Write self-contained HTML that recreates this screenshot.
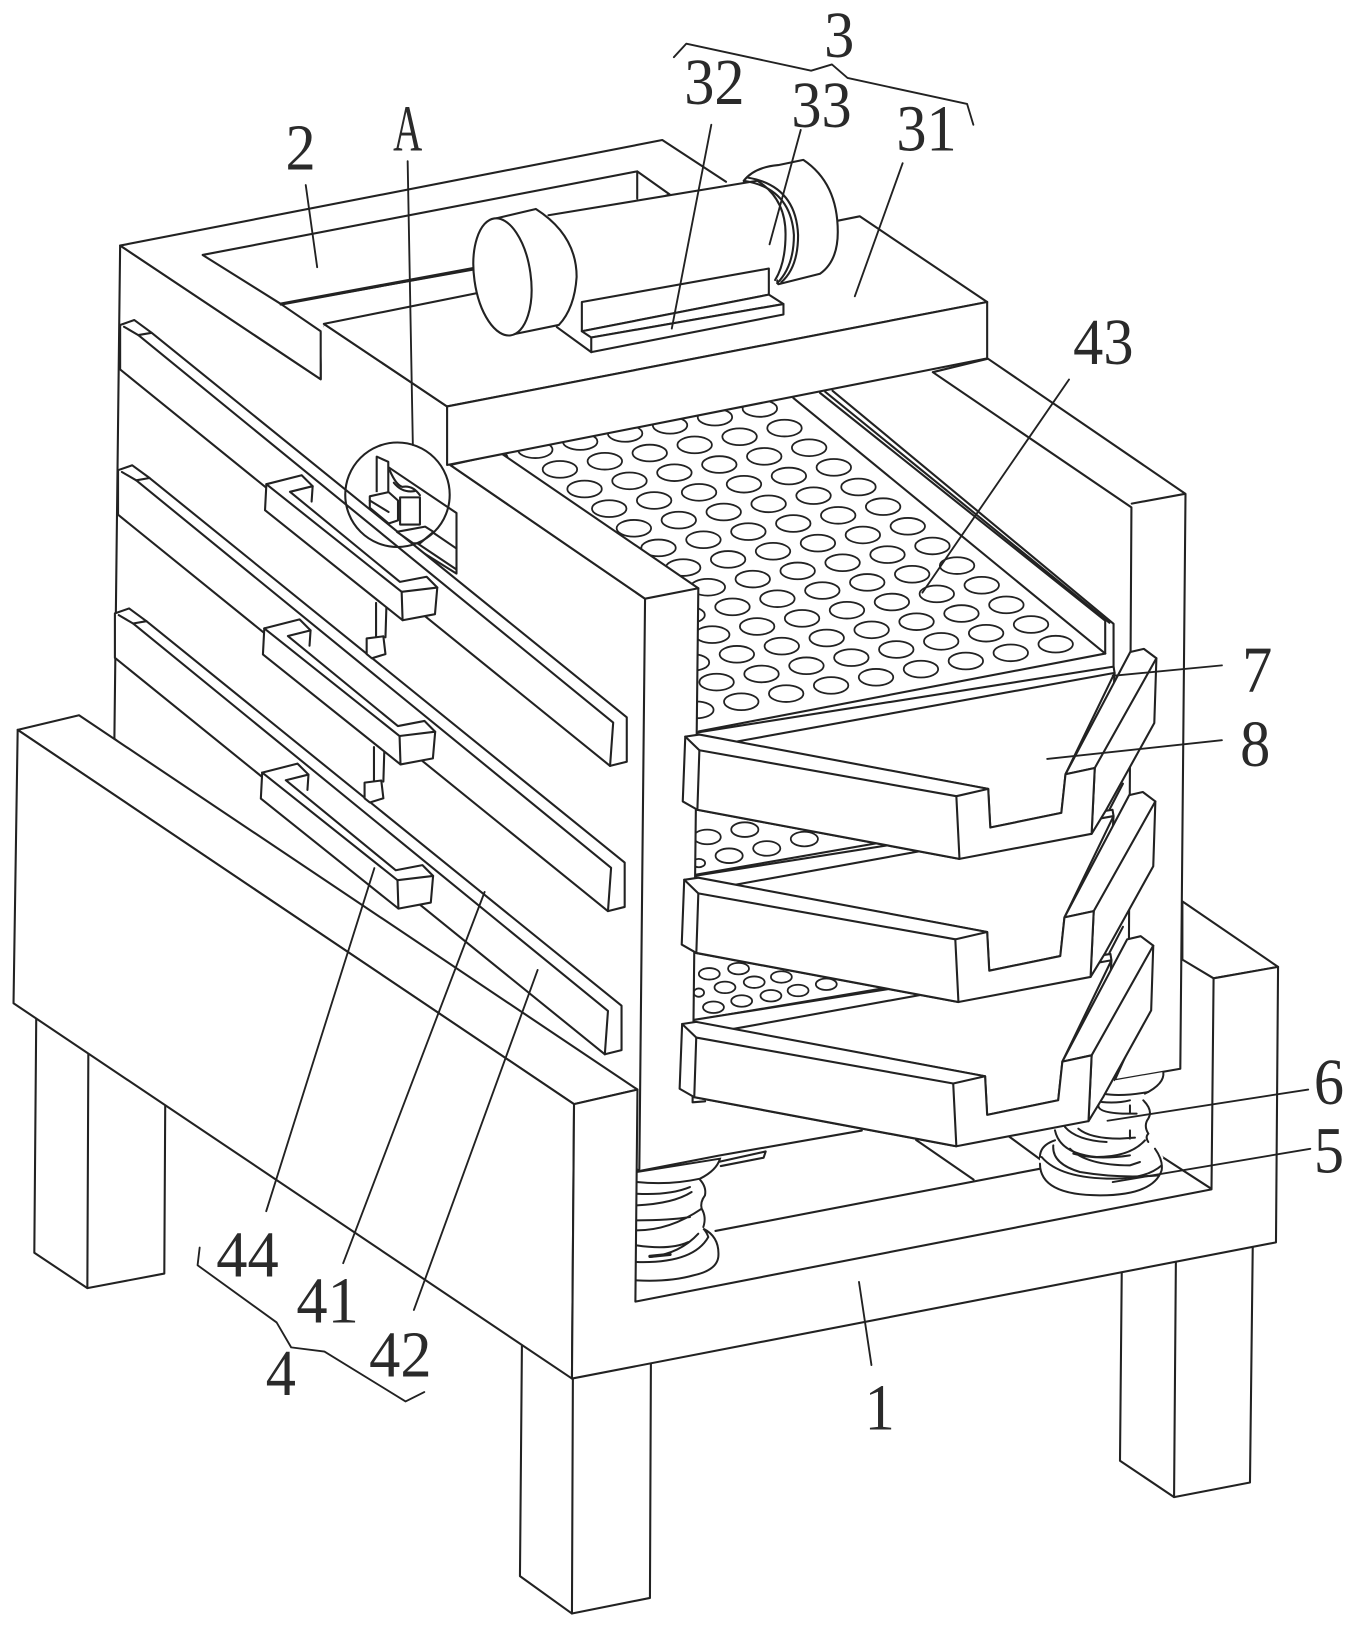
<!DOCTYPE html>
<html><head><meta charset="utf-8">
<style>
html,body{margin:0;padding:0;background:#fff;width:1358px;height:1630px;overflow:hidden}
svg{display:block}
.l{fill:none;stroke:#222;stroke-width:2;stroke-linejoin:round;stroke-linecap:round}
.w{fill:#fff;stroke:#222;stroke-width:2;stroke-linejoin:round}
.f{fill:#fff;stroke:none}
.t{font-family:"Liberation Serif",serif;font-size:63px;fill:#2a2a2a;text-anchor:middle}
</style></head><body>
<svg width="1358" height="1630" viewBox="0 0 1300 1560" preserveAspectRatio="none" xmlns="http://www.w3.org/2000/svg">
<defs>
<g id="hr" fill="#fff" stroke="#222" stroke-width="1.7">
<ellipse cx="1010.6" cy="616.5" rx="16.5" ry="8"/><ellipse cx="967.6" cy="624.8" rx="16.5" ry="8"/>
<ellipse cx="924.6" cy="632.6" rx="16.5" ry="8"/><ellipse cx="881.6" cy="640.4" rx="16.5" ry="8"/><ellipse cx="838.6" cy="648.2" rx="16.5" ry="8"/><ellipse cx="795.6" cy="656" rx="16.5" ry="8"/><ellipse cx="752.6" cy="663.8" rx="16.5" ry="8"/><ellipse cx="709.6" cy="671.6" rx="16.5" ry="8"/><ellipse cx="666.6" cy="679.4" rx="16.5" ry="8"/>
</g>
<g id="tray">
<polygon class="w" points="667.6,701 1066,638 1067,644 1059,775 918,822 667,775"/>
<polygon class="w" points="703.5,710 1067,644 1020,741 1016,778 948,792 946,755"/>
<polygon class="w" points="1020,741 1082,624 1095,621 1107,630 1105,692 1059,775 1045,798 1048,735"/>
<line class="l" x1="1048" y1="735" x2="1107" y2="630"/>
<polygon class="w" points="656,705 669.5,703 946,755 948,792 1016,778 1020,741 1048,735 1045,798 918.5,822 667.6,775 653.6,767"/>
<polyline class="l" points="669.5,718 915.5,762 946,755"/>
<polyline class="l" points="656,705 669.5,718 667.6,775"/>
<polyline class="l" points="915.5,762 918.5,822"/>
</g>
<g id="rail">
<polygon class="w" points="115,311 128.6,306.3 145.2,318.5 600,686.5 600,729 584,733 115,353.6"/>
<polyline class="l" points="132.4,320.7 587,691.5 584,733"/>
<polyline class="l" points="118.7,312.7 132.4,320.7 145.2,318.5"/>
</g>
<g id="bar">
<polygon class="f" points="255,463 289,455 299,465 299,482 383,557 408,552 418.6,562 416.4,588 385.4,594 253.7,488"/>
<polyline class="l" points="255,463.4 288.8,454.8 299.3,465.3 298.3,480"/>
<polyline class="l" points="255,463.4 253.7,488.3 385.4,593.6 416.4,587.8 418.6,562.3 408.4,552 382.9,556.9 277.6,470.7 299.3,465.3"/>
<polyline class="l" points="255,463.4 384.5,566.4 418.6,562.3"/>
<line class="l" x1="384.5" y1="566.4" x2="385.4" y2="593.6"/>
</g>
</defs>
<rect width="1300" height="1560" fill="#fff"/>

<!-- legs -->
<g transform="scale(.9955,.995)">
<polygon class="w" points="35,960 33,1205 84,1239 158,1225 159,1040 85,1000"/>
<line class="l" x1="85" y1="1000" x2="84" y2="1239"/>
<polygon class="w" points="502,1280 500,1516 550,1552 625,1537 626,1290 551,1300"/>
<line class="l" x1="551" y1="1300" x2="550" y2="1552"/>
<polygon class="w" points="1079,1190 1077,1405 1129,1440 1202,1426 1205,1170 1131,1180"/>
<line class="l" x1="1131" y1="1180" x2="1129" y2="1440"/>
<!-- floor white -->
<polygon class="f" points="611,1048 1167,860 1229,930 1227,1195 550,1326"/>
<line class="l" x1="688" y1="1184" x2="1001" y2="1124"/>
</g>
<line class="l" x1="877" y1="1091" x2="932" y2="1129"/>
<line class="l" x1="965" y1="1087" x2="1010" y2="1120"/>
<line class="l" x1="1106" y1="1103" x2="1160" y2="1138"/>
<polyline class="l" points="610.7,1121 688,1106 825,1082"/>
<polyline class="l" points="688,1112 733,1102 731,1108 690,1116"/>

<!-- right wall -->
<polygon class="w" transform="scale(.9955,.995)" points="897,358 950,345 1140,475 1135,1028 1072,1039 1085,1010 1088,488"/>
<line class="l" x1="1083.4" y1="482" x2="1134.5" y2="472.6"/>

<!-- right spring -->
<g transform="matrix(.3191,0,0,.3191,976.4,1005.2)">
<g fill="none" stroke="#222" stroke-width="6" stroke-linecap="round">
<path d="M285 90Q285 130 250 130L230 190 110 240 60 320 60 360Q80 435 240 435Q400 435 425 360L430 320 385 270 385 205 380 130 430 65Z" fill="#fff" stroke="none"/>
<path d="M430 65Q435 100 375 130"/>
<path d="M250 130Q300 140 385 125"/>
<path d="M245 155Q290 160 330 150"/>
<path d="M235 165Q235 190 330 190M330 165V190H350"/>
<path d="M370 150Q400 180 385 205Q370 225 385 250Q375 260 385 275"/>
<path d="M105 240Q120 310 230 320Q330 320 375 270"/>
<path d="M135 230Q170 270 260 275M175 235Q210 265 300 265L345 262M330 240V265"/>
<path d="M60 320Q60 285 105 270"/>
<path d="M60 340Q60 435 240 435Q400 435 425 360Q430 330 405 295"/>
<path d="M65 320Q120 385 280 385Q380 385 425 345"/>
<path d="M100 285Q95 340 180 365Q300 385 415 375"/>
<path d="M150 295Q200 345 330 345L360 335M160 310Q230 330 330 315"/>
</g>
</g>
<!-- left spring -->
<g transform="matrix(.3191,0,0,.3191,593.5,1081.8)">
<g fill="none" stroke="#222" stroke-width="6" stroke-linecap="round">
<path d="M50 125L300 85Q290 120 240 145Q262 170 255 195Q240 215 245 235Q260 260 250 290Q300 320 295 380Q290 420 220 435Q150 455 50 450Z" fill="#fff" stroke="none"/>
<path d="M50 125L300 85Q290 120 240 145Q150 165 50 155"/>
<path d="M50 190Q150 195 210 170M50 225Q160 220 215 185"/>
<path d="M240 148Q260 170 255 195Q240 215 245 235Q260 260 250 290"/>
<path d="M50 270Q150 270 210 260M50 300Q150 300 245 235"/>
<path d="M50 345Q150 360 205 335M90 380Q180 370 235 310"/>
<path d="M90 378L150 372" stroke-width="10"/>
<path d="M50 395Q220 400 265 320Q260 305 250 295Q300 320 295 380Q290 420 220 435Q150 455 50 450"/>
</g>
</g>

<!-- sieves -->
<polygon class="f" points="480,434 759.5,381 1058,625.5 669,700 669,563"/>
<use href="#hr"/>
<use href="#hr" transform="translate(-23.6,-18.8)"/>
<use href="#hr" transform="translate(-47.2,-37.6)"/>
<use href="#hr" transform="translate(-70.8,-56.4)"/>
<use href="#hr" transform="translate(-94.4,-75.2)"/>
<use href="#hr" transform="translate(-118,-94)"/>
<use href="#hr" transform="translate(-141.6,-112.8)"/>
<use href="#hr" transform="translate(-165.2,-131.6)"/>
<use href="#hr" transform="translate(-188.8,-150.4)"/>
<use href="#hr" transform="translate(-212.4,-169.2)"/>
<use href="#hr" transform="translate(-236,-188)"/>
<use href="#hr" transform="translate(-259.6,-206.8)"/>
<use href="#hr" transform="translate(-283.2,-225.6)"/>
<line class="l" x1="759.5" y1="381" x2="1058" y2="625.5"/>
<polyline class="l" points="785,376 1058,594 1058,625.5"/>
<line class="l" x1="790" y1="375" x2="1062" y2="596"/>
<polyline class="l" points="797,374 1066,597 1066,640"/>
<line class="l" x1="669" y1="700" x2="1058" y2="625.5"/>
<polyline class="l" points="1075,750 1062,775"/>
<polyline class="l" points="1075,887 1062,912"/>
<polygon class="f" points="668,770 880,800 880,805 668,838"/>
<g fill="#fff" stroke="#222" stroke-width="1.7">
<ellipse cx="713" cy="794" rx="13" ry="7"/><ellipse cx="770" cy="803" rx="13" ry="7"/><ellipse cx="677" cy="801" rx="13" ry="7"/><ellipse cx="734" cy="812" rx="13" ry="7"/><ellipse cx="698" cy="819" rx="13" ry="7"/><ellipse cx="669" cy="826" rx="6" ry="4"/>
</g>
<line class="l" x1="667" y1="837" x2="880" y2="800"/>
<polygon class="f" points="668,910 880,935 880,945 668,975"/>
<g fill="#fff" stroke="#222" stroke-width="1.7">
<ellipse cx="679" cy="932" rx="10" ry="5.5"/><ellipse cx="707" cy="927" rx="10" ry="5.5"/><ellipse cx="748" cy="935" rx="10" ry="5.5"/><ellipse cx="722" cy="940" rx="10" ry="5.5"/><ellipse cx="694" cy="945" rx="10" ry="5.5"/><ellipse cx="764" cy="948" rx="10" ry="5.5"/><ellipse cx="738" cy="953" rx="10" ry="5.5"/><ellipse cx="710" cy="958" rx="10" ry="5.5"/><ellipse cx="791" cy="942" rx="10" ry="5.5"/><ellipse cx="683" cy="964" rx="10" ry="5.5"/><ellipse cx="669" cy="950" rx="5" ry="4"/>
</g>
<line class="l" x1="667" y1="976" x2="880" y2="940"/>

<!-- post -->
<polygon class="f" points="617.5,573 668.5,563 662,1058 612,1121"/>
<polyline class="l" points="668.5,563 663,1055 675,1054"/>

<!-- trays -->
<use href="#tray" transform="translate(-3,275)"/>
<use href="#tray" transform="translate(-1,137)"/>
<use href="#tray"/>

<!-- left wall + top -->
<polygon class="w" points="115,235 307,363 307,318 310,310 428,389 431,445 617.5,573 612,1121 109.5,707"/>
<polygon class="w" points="431,445 617.5,573 668.5,563 480,434"/>

<!-- top frame -->
<polygon class="f" points="115,235 634,134 700,180 310,310 307,363"/>
<polyline class="l" points="695,174 634,134 115,235 307,363 307,318"/>
<polygon class="w" points="194,244 610,164 641,186 453,258 269,291"/>
<polygon class="f" points="453,258 641,186 660,200 453,285"/>
<line class="l" x1="610" y1="164" x2="610" y2="190"/>
<line class="l" x1="269" y1="291" x2="453" y2="257" style="stroke-width:3"/>
<line class="l" x1="269" y1="291" x2="307" y2="317"/>

<!-- box 31 -->
<polygon class="w" points="310,310 823,207 945,289 428,389"/>
<polygon class="w" points="428,389 945,289 945,343 428,445"/>

<!-- motor -->
<path class="w" d="M712 173 Q722 160 745 158 L769 153 Q802 175 802 222 Q802 250 785 262 L745 272 Z"/>
<path class="f" d="M525 206 L725 173 Q755 190 755 224 Q755 255 742 270 L736 285 L535 311 Z"/>
<path class="l" d="M525 206 L725 173 Q752 190 752 224 Q752 252 742 268"/>
<path class="l" d="M712 173 Q757 180 760 225 Q760 255 744 271"/>
<path class="l" d="M716 170 Q762 178 764 225 Q764 256 748 270"/>
<path class="w" d="M475 209 L513 200 Q552 225 552 265 Q550 295 535 311 L491 320 Z"/>
<ellipse class="w" cx="481" cy="265" rx="27" ry="56.5" transform="rotate(-8 481 265)"/>

<!-- mount 32 -->
<polygon class="w" points="557,289 736,257 736,282 557,317"/>
<polygon class="w" points="557,317 736,282 750,291 566,323"/>
<polygon class="w" points="566,323 750,291 750,301 566,337"/>
<line class="l" x1="533" y1="313" x2="566" y2="337"/>

<!-- mechanism plate -->
<polygon class="f" points="372,447 437,491 437,549 395,523"/>
<polyline class="l" points="371.7,447 437,491 437,549 395.6,523"/>
<line class="l" x1="415" y1="510" x2="437" y2="525"/>
<line class="l" x1="398" y1="519" x2="437" y2="545"/>

<!-- rails and bars -->
<use href="#rail"/>
<use href="#rail" transform="translate(-2,139)"/>
<use href="#rail" transform="translate(-5,276)"/>
<g>
<line class="l" x1="360" y1="577" x2="360" y2="612"/><line class="l" x1="370" y1="577" x2="369" y2="610"/>
<polygon class="w" points="351,611 367,609 369,626 356,630 351,626"/>
<line class="l" x1="358" y1="715" x2="358" y2="750"/><line class="l" x1="368" y1="715" x2="367" y2="748"/>
<polygon class="w" points="349,749 365,747 367,764 354,768 349,764"/>
</g>
<use href="#bar"/>
<use href="#bar" transform="translate(-2,138)"/>
<use href="#bar" transform="translate(-4,276)"/>

<!-- circle A -->
<polyline class="w" points="360.6,471 360.6,437 371.7,442 371.7,471"/>
<polygon class="w" points="354,475 372,471 381,479 381,498 372,501 354,486"/>
<line class="l" x1="354" y1="479" x2="372" y2="490"/>
<rect class="w" x="383" y="476" width="19" height="26"/>
<path class="l" d="M373 450q6 14 12 16q10-2 17 8M377 462q8 10 20 8"/>
<polygon class="w" points="380,509 407,504 415,509 402,520 395.6,520"/>
<circle class="l" cx="380.5" cy="473.5" r="50"/>

<!-- front panel + U base -->
<g transform="scale(.9955,.995)">
<polygon class="w" points="1137,867 1229,930 1167,941 1137,923"/>
<polygon class="w" points="17,702 76,688 613,1048 552,1062"/>
<polygon class="w" points="17,702 552,1062 550,1326 13,965"/>
<polygon class="w" points="552,1062 613,1048 611,1252 1165,1144 1167,941 1229,930 1227,1195 550,1326"/>

<!-- leaders -->
<g class="l" style="stroke-width:1.8">
<line x1="294" y1="178" x2="305" y2="257"/>
<line x1="392" y1="155" x2="397" y2="428"/>
<line x1="684" y1="120" x2="646" y2="316"/>
<line x1="770" y1="125" x2="740" y2="235"/>
<line x1="868" y1="157" x2="822" y2="285"/>
<line x1="1028" y1="365" x2="887" y2="570"/>
<line x1="1070" y1="650" x2="1175" y2="640"/>
<line x1="1007" y1="730" x2="1175" y2="712"/>
<line x1="1065" y1="1078" x2="1258" y2="1048"/>
<line x1="1070" y1="1137" x2="1260" y2="1105"/>
<line x1="826" y1="1233" x2="838" y2="1313"/>
<line x1="360" y1="835" x2="256" y2="1165"/>
<line x1="466" y1="858" x2="330" y2="1215"/>
<line x1="517" y1="933" x2="398" y2="1260"/>
<polyline points="648,55 660,42 780,68 800,62 815,75 930,100 936,120"/>
<polyline points="192,1200 190,1217 266,1272 280,1296 312,1300 390,1348 408,1339"/>
</g>

<!-- labels -->
<text class="t" x="807" y="55" textLength="29" lengthAdjust="spacingAndGlyphs">3</text>
<text class="t" x="687" y="100" textLength="58" lengthAdjust="spacingAndGlyphs">32</text>
<text class="t" x="790" y="122" textLength="58" lengthAdjust="spacingAndGlyphs">33</text>
<text class="t" x="891" y="145" textLength="58" lengthAdjust="spacingAndGlyphs">31</text>
<text class="t" x="289" y="163" textLength="29" lengthAdjust="spacingAndGlyphs">2</text>
<text class="t" x="392" y="145" textLength="28" lengthAdjust="spacingAndGlyphs">A</text>
<text class="t" x="1061" y="350" textLength="58" lengthAdjust="spacingAndGlyphs">43</text>
<text class="t" x="1209" y="665" textLength="29" lengthAdjust="spacingAndGlyphs">7</text>
<text class="t" x="1207" y="737" textLength="29" lengthAdjust="spacingAndGlyphs">8</text>
<text class="t" x="1278" y="1062" textLength="29" lengthAdjust="spacingAndGlyphs">6</text>
<text class="t" x="1278" y="1128" textLength="29" lengthAdjust="spacingAndGlyphs">5</text>
<text class="t" x="846" y="1375" textLength="29" lengthAdjust="spacingAndGlyphs">1</text>
<text class="t" x="238" y="1228" textLength="60" lengthAdjust="spacingAndGlyphs">44</text>
<text class="t" x="315" y="1272" textLength="60" lengthAdjust="spacingAndGlyphs">41</text>
<text class="t" x="385" y="1324" textLength="60" lengthAdjust="spacingAndGlyphs">42</text>
<text class="t" x="270" y="1342" textLength="29" lengthAdjust="spacingAndGlyphs">4</text>
</g>
</svg>
</body></html>
